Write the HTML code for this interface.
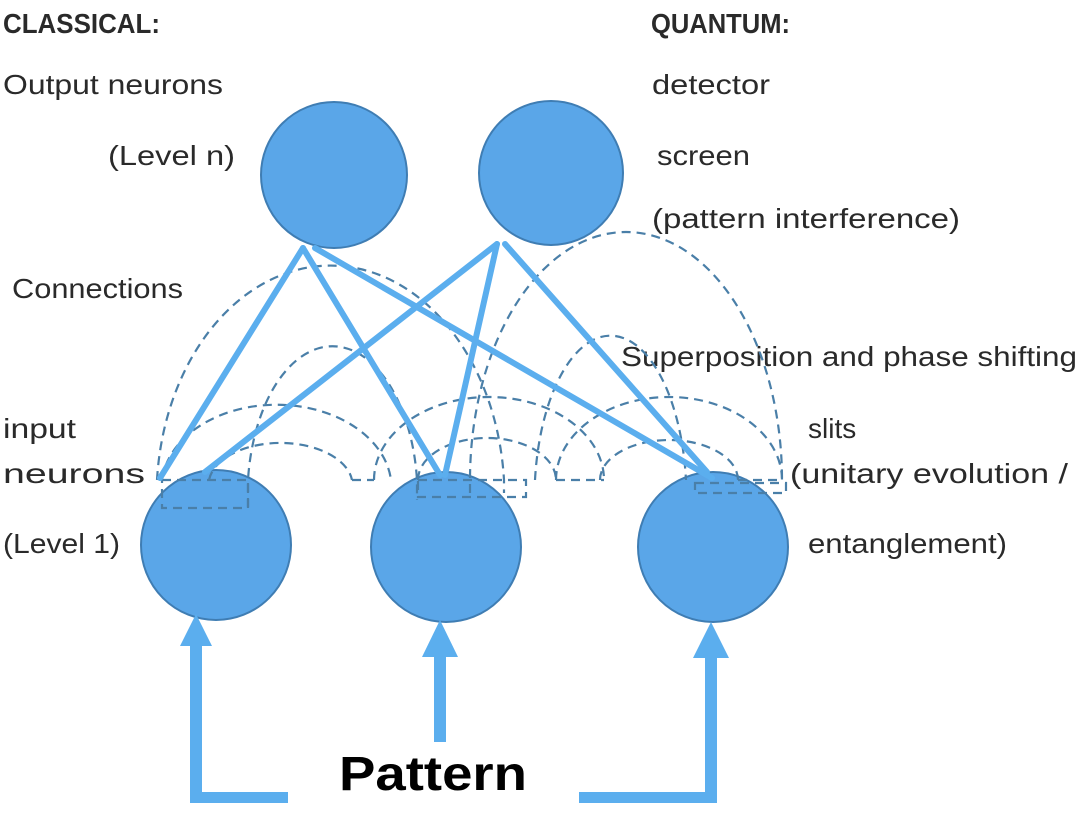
<!DOCTYPE html>
<html><head><style>
body{margin:0;background:#fff;}
svg text{font-family:"Liberation Sans",sans-serif;fill:#2a2a2a;}
</style></head><body>
<svg width="1083" height="808" viewBox="0 0 1083 808" xmlns="http://www.w3.org/2000/svg">
<g font-size="28">
<text x="3" y="33" font-weight="bold" textLength="157" lengthAdjust="spacingAndGlyphs">CLASSICAL:</text>
<text x="651" y="33" font-weight="bold" textLength="139" lengthAdjust="spacingAndGlyphs">QUANTUM:</text>
<text x="3" y="94" textLength="220" lengthAdjust="spacingAndGlyphs">Output neurons</text>
<text x="108" y="165" textLength="127" lengthAdjust="spacingAndGlyphs">(Level n)</text>
<text x="652" y="94" textLength="118" lengthAdjust="spacingAndGlyphs">detector</text>
<text x="657" y="165" textLength="93" lengthAdjust="spacingAndGlyphs">screen</text>
<text x="652" y="228" textLength="308" lengthAdjust="spacingAndGlyphs">(pattern interference)</text>
<text x="12" y="298" textLength="171" lengthAdjust="spacingAndGlyphs">Connections</text>
<text x="621" y="366" textLength="456" lengthAdjust="spacingAndGlyphs">Superposition and phase shifting</text>
<text x="3" y="438" textLength="73" lengthAdjust="spacingAndGlyphs">input</text>
<text x="3" y="483" textLength="142" lengthAdjust="spacingAndGlyphs">neurons</text>
<text x="3" y="553" textLength="117" lengthAdjust="spacingAndGlyphs">(Level 1)</text>
<text x="808" y="438">slits</text>
<text x="790" y="483" textLength="278" lengthAdjust="spacingAndGlyphs">(unitary evolution /</text>
<text x="808" y="553" textLength="199" lengthAdjust="spacingAndGlyphs">entanglement)</text>
</g>
<text x="339" y="790" font-size="48" font-weight="bold" textLength="188" lengthAdjust="spacingAndGlyphs" style="fill:#000">Pattern</text>

<g fill="#5AA6E8" stroke="#3f7db3" stroke-width="2">
<circle cx="334" cy="175" r="73"/>
<circle cx="551" cy="173" r="72"/>
<circle cx="216" cy="545" r="75"/>
<circle cx="446" cy="547" r="75"/>
<circle cx="713" cy="547" r="75"/>
</g>

<g fill="none" stroke="#4a7fa8" stroke-width="2.2" stroke-dasharray="9,6">
<path d="M157 480 A174 232 0 0 1 504 480 L504 493"/>
<path d="M470 493 L470 480 A156 248 0 0 1 782 480"/>
<path d="M248 507 L248 480 A85 150 0 0 1 417 480 L417 500"/>
<path d="M535 480 A76 163 0 0 1 686 480"/>
<path d="M162 480 A115 83 0 0 1 391 480"/>
<path d="M209 480 A72 42 0 0 1 352 480"/>
<path d="M374 480 A115 83 0 0 1 604 480"/>
<path d="M418 480 A69 42 0 0 1 556 480"/>
<path d="M556 480 A113 83 0 0 1 782 480"/>
<path d="M600 480 A69 40 0 0 1 738 480"/>
<path d="M352 480 L374 480 M556 480 L604 480 M738 480 L782 480"/>
<rect x="162" y="480" width="86" height="28"/>
<rect x="418" y="480" width="108" height="17"/>
<rect x="695" y="483" width="91" height="10"/>
</g>

<g stroke="#5BAEEE" stroke-width="6" stroke-linecap="round">
<line x1="303" y1="248" x2="160" y2="478"/>
<line x1="303" y1="248" x2="440" y2="475"/>
<line x1="315" y1="248" x2="712" y2="478"/>
<line x1="497" y1="244" x2="205" y2="472"/>
<line x1="497" y1="244" x2="445" y2="475"/>
<line x1="505" y1="244" x2="707" y2="472"/>
</g>

<g fill="#5BAEEE">
<rect x="190" y="640" width="12" height="163"/>
<rect x="190" y="792" width="98" height="11"/>
<polygon points="196,614 212,646 180,646"/>
<rect x="434" y="652" width="12" height="90"/>
<polygon points="440,620 458,657 422,657"/>
<rect x="705" y="652" width="12" height="151"/>
<rect x="579" y="792" width="138" height="11"/>
<polygon points="711,622 729,658 693,658"/>
</g>
</svg>
</body></html>
